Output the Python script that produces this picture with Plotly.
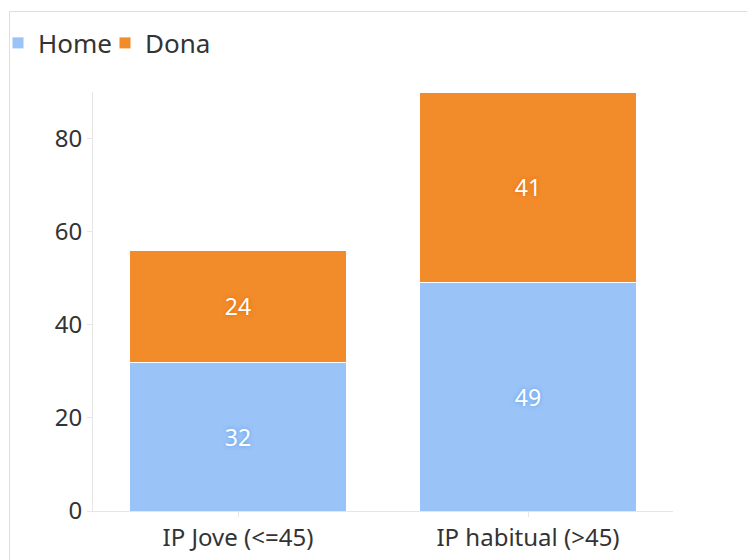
import plotly.graph_objects as go

categories = ["IP Jove (<=45)", "IP habitual (>45)"]
home = [32, 49]
dona = [24, 41]
series_names = ["Home", "Dona"]
colors = ["#9ac3f7", "#f28b2a"]
halo = ["#5f9cee", "#de6e0a"]

# page offset of 8px (body margin) is accounted for
W, H = 755, 560
L, R, T, B = 85, 90, 84, 57
pw, ph = W - L - R, H - T - B

FONT = "Source Sans Pro, Noto Sans, sans-serif"

fig = go.Figure()
for name, vals, col, hc in zip(series_names, [home, dona], colors, halo):
    fig.add_trace(go.Bar(
        x=categories, y=vals, name=name,
        marker=dict(color=col, line=dict(color="white", width=1)),
        text=[str(v) for v in vals], textposition="inside",
        insidetextanchor="middle",
        textfont=dict(color="white", size=23, family=FONT,
                      shadow=f"0px 0px 4px {hc}"),
    ))

fig.update_layout(
    width=W, height=H,
    barmode="stack", bargap=0.25,
    margin=dict(l=L, r=R, t=T, b=B, autoexpand=False),
    paper_bgcolor="white", plot_bgcolor="white",
    font=dict(family=FONT, color="#333333"),
    showlegend=True,
    legend=dict(orientation="h", xref="paper", yref="container",
                x=(-10 - L) / pw, y=1 - 35 / H, bgcolor="rgba(0,0,0,0)",
                xanchor="left", yanchor="middle", traceorder="normal",
                font=dict(size=26, color="#333333"), entrywidth=62,
                itemwidth=30),
    xaxis=dict(showline=True, linecolor="#e6e6e6", ticks="outside", ticklen=5,
               tickcolor="#e6e6e6", tickfont=dict(size=24, color="#333333"),
               showgrid=False),
    yaxis=dict(range=[0, 90], showline=True, linecolor="#e6e6e6", ticks="outside",
               ticklen=5, tickcolor="#e6e6e6", tickvals=[0, 20, 40, 60, 80],
               tickfont=dict(size=24, color="#333333"), showgrid=False, zeroline=False),
    shapes=[dict(type="rect", xref="paper", yref="paper",
                 x0=(1.5 - L) / pw, x1=2, y0=-1, y1=(H - B - 3.5) / ph,
                 line=dict(color="#dddddd", width=1), fillcolor="rgba(0,0,0,0)",
                 layer="below")],
)

fig.write_html("out.html")
